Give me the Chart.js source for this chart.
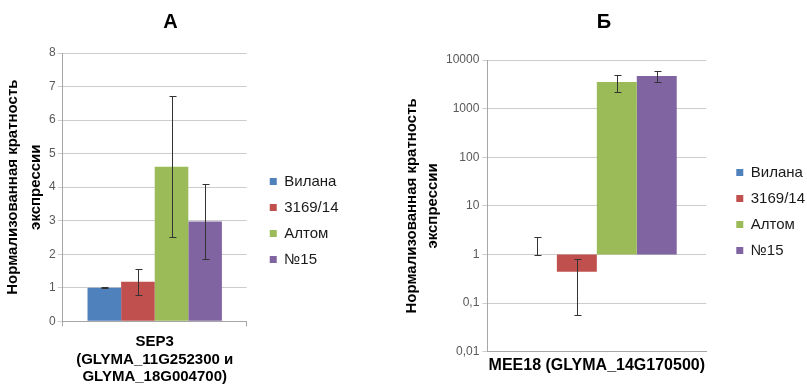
<!DOCTYPE html>
<html>
<head>
<meta charset="utf-8">
<script src="https://cdn.jsdelivr.net/npm/chart.js@4.4.0/dist/chart.umd.min.js"></script>
<style>
  body { margin: 0; background: #fff; }
  .box { position: absolute; top: 0; height: 385px; }
</style>
</head>
<body>
<div class="box" style="left:0;width:400px"><canvas id="chartA"></canvas></div>
<div class="box" style="left:400px;width:407px"><canvas id="chartB"></canvas></div>
<script>
const varieties = ['Вилана', '3169/14', 'Алтом', '№15'];
const colors = ['#4F81BD', '#C0504D', '#9BBB59', '#8064A2'];

// A: SEP3, linear scale
const genesA = [['SEP3', '(GLYMA_11G252300 и', 'GLYMA_18G004700)']];
const valuesA = [1.0, 1.18, 4.61, 2.98];
const errLowA = [0.99, 0.78, 2.5, 1.86];
const errHighA = [1.01, 1.57, 6.73, 4.1];

// Б: MEE18, log scale, bars grow from 1
const genesB = ['MEE18 (GLYMA_14G170500)'];
const valuesB = [1, 0.44, 3520, 4670];
const errLowB = [1, 0.057, 2220, 3470];
const errHighB = [2.34, 0.82, 4970, 6000];
const ticksB = [0.01, 0.1, 1, 10, 100, 1000, 10000];
const tickLabelsB = ['0,01', '0,1', '1', '10', '100', '1000', '10000'];

Chart.defaults.font.family = "'Liberation Sans', Arial, sans-serif";

function makeErrorBars(low, high) {
  return {
    id: 'errorBars',
    afterDatasetsDraw(chart) {
      const ctx = chart.ctx;
      const y = chart.scales.y;
      ctx.save();
      ctx.strokeStyle = '#333';
      ctx.lineWidth = 1;
      chart.data.datasets.forEach((ds, i) => {
        const bar = chart.getDatasetMeta(i).data[0];
        const x = Math.round(bar.x) + 0.5;
        const top = Math.round(y.getPixelForValue(high[i])) + 0.5;
        const bot = Math.round(y.getPixelForValue(low[i])) + 0.5;
        ctx.beginPath();
        ctx.moveTo(x, top); ctx.lineTo(x, bot);
        ctx.moveTo(x - 3, top); ctx.lineTo(x + 4, top);
        ctx.moveTo(x - 3, bot); ctx.lineTo(x + 4, bot);
        ctx.stroke();
      });
      ctx.restore();
    }
  };
}

// nudge legend and title boxes after layout
function makeBoxShift(dx, dy, titleDx) {
  return {
    id: 'boxShift',
    afterLayout(chart) {
      const lg = chart.legend;
      lg.left += dx;
      lg.right = chart.width;
      lg.width = lg.right - lg.left;
      lg.top += dy;
      lg.bottom += dy;
      chart.titleBlock.left += titleDx;
      chart.titleBlock.right += titleDx;
    }
  };
}

function legendOpts() {
  return {
    position: 'right',
    labels: { boxWidth: 7, boxHeight: 7, padding: 11, font: { size: 15 }, color: '#1a1a1a' }
  };
}

new Chart(document.getElementById('chartA'), {
  type: 'bar',
  data: {
    labels: genesA,
    datasets: varieties.map((name, i) => ({
      label: name,
      data: [valuesA[i]],
      backgroundColor: colors[i],
      categoryPercentage: 0.73,
      barPercentage: 1
    }))
  },
  options: {
    responsive: true,
    maintainAspectRatio: false,
    animation: false,
    layout: { padding: { left: 0, right: 71, bottom: -8 } },
    plugins: {
      title: { display: true, text: 'А', color: '#000', font: { size: 20, weight: 'bold' }, padding: { top: 10, bottom: 19 } },
      legend: legendOpts(),
      tooltip: { enabled: false }
    },
    scales: {
      x: {
        grid: { drawOnChartArea: false, tickLength: 5, color: '#a6a6a6' },
        border: { color: '#a6a6a6' },
        ticks: { color: '#000', font: { size: 15, weight: 'bold', lineHeight: 1.17 }, padding: 7 }
      },
      y: {
        min: 0,
        max: 8,
        ticks: { stepSize: 1, color: '#595959', font: { size: 12 }, padding: 2 },
        grid: { color: '#cccccc', tickLength: 5 },
        border: { color: '#a6a6a6' },
        title: { display: true, text: ['Нормализованная кратность', 'экспрессии'], color: '#000', font: { size: 15, weight: 'bold', lineHeight: 1.5 }, padding: { top: 2, bottom: 0 } }
      }
    }
  },
  plugins: [makeErrorBars(errLowA, errHighA), makeBoxShift(12, 24, 6)]
});

new Chart(document.getElementById('chartB'), {
  type: 'bar',
  data: {
    labels: genesB,
    datasets: varieties.map((name, i) => ({
      label: name,
      data: [[1, valuesB[i]]],
      backgroundColor: colors[i],
      categoryPercentage: 0.73,
      barPercentage: 1
    }))
  },
  options: {
    responsive: true,
    maintainAspectRatio: false,
    animation: false,
    layout: { padding: { left: 0, right: 11, bottom: 6 } },
    plugins: {
      title: { display: true, text: 'Б', color: '#000', font: { size: 20, weight: 'bold' }, padding: { top: 10, bottom: 26 } },
      legend: legendOpts(),
      tooltip: { enabled: false }
    },
    scales: {
      x: {
        grid: { drawOnChartArea: false, drawTicks: false, color: '#a6a6a6' },
        border: { color: '#a6a6a6' },
        ticks: { color: '#000', font: { size: 16, weight: 'bold' }, padding: 4 }
      },
      y: {
        type: 'logarithmic',
        min: 0.01,
        max: 10000,
        afterBuildTicks: (scale) => { scale.ticks = ticksB.map(v => ({ value: v })); },
        ticks: { color: '#595959', font: { size: 12 }, padding: 3, callback: (v, i) => tickLabelsB[i] },
        grid: { color: '#cccccc', tickLength: 5 },
        border: { color: '#a6a6a6' },
        title: { display: true, text: ['Нормализованная кратность', 'экспрессии'], color: '#000', font: { size: 15, weight: 'bold', lineHeight: 1.4 }, padding: { top: 1, bottom: 0 } }
      }
    }
  },
  plugins: [makeErrorBars(errLowB, errHighB), makeBoxShift(19, 22, 6)]
});
</script>
</body>
</html>
